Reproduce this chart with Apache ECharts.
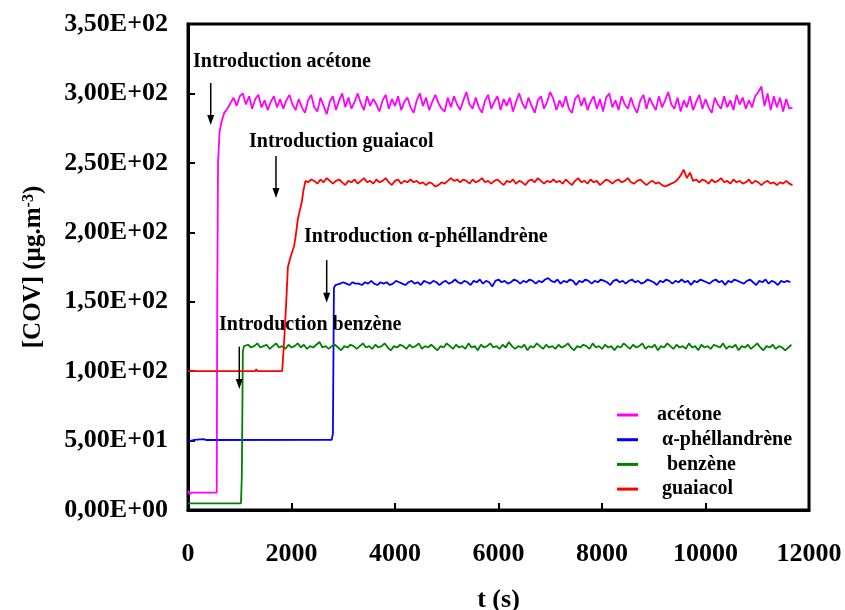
<!DOCTYPE html>
<html>
<head>
<meta charset="utf-8">
<script src="https://cdn.jsdelivr.net/npm/echarts@6/dist/echarts.min.js"></script>
<style>
html,body{margin:0;padding:0;background:#fff;}
#chart{width:845px;height:610px;}
</style>
</head>
<body>
<div id="chart"></div>
<script>
// ---- Data ----
const seriesNames = ['acétone', 'α-phéllandrène', 'benzène', 'guaiacol'];
const xTicks = [0, 2000, 4000, 6000, 8000, 10000, 12000];
const yTicks = [0, 50, 100, 150, 200, 250, 300, 350];

const step = 60; // sampling interval (s) of the plateau readings

// acétone
const acetonePre = [[0,14],[30,11.5],[70,12.5],[555,12.5],[565,150],[580,250],[610,272],[650,280],[700,286]];
const acetoneStart = 760;
const acetoneVals = [
 289,293,297,291,298,300,292,298,289,296,299,290,295,288,294,298,290,296,289,295,
 299,292,288,296,290,286,295,299,290,287,297,291,285,294,298,288,295,300,290,297,
 289,294,300,293,288,298,291,296,292,287,295,299,289,296,291,298,288,294,297,290,
 286,295,300,291,297,288,294,299,293,289,287,297,290,298,292,288,295,301,292,289,
 297,290,286,295,299,289,294,298,288,296,291,297,287,294,300,293,289,297,291,286,
 295,298,289,294,301,296,288,295,290,298,289,286,296,299,291,297,288,294,298,289,
 296,287,297,300,290,295,288,298,292,289,297,290,286,295,299,289,297,292,288,298,
 290,295,301,292,289,297,287,295,290,298,288,294,299,289,296,290,286,297,292,289,
 298,290,295,288,299,292,297,289,295,290,298,301,305,291,300,288,298,290,297,287,296,289,290
];

// α-phéllandrène
const alphaPre = [[0,50.4],[60,49.8],[120,50.5],[300,51],[360,50.4],[2777,50.6],[2800,55],[2820,160],[2850,162]];
const alphaStart = 2880;
const alphaVals = [
 162,163,164,163,162,164,163,163,162,164,163,165,163,162,164,163,164,162,163,165,
 164,163,162,164,165,163,164,162,165,164,163,165,164,162,164,165,163,164,166,164,
 163,165,164,162,165,164,166,163,165,164,161,165,166,164,165,163,164,166,165,163,
 165,164,166,165,163,165,164,166,167,165,164,166,163,165,164,166,165,162,165,164,
 166,165,163,165,164,166,165,164,162,165,166,164,165,163,165,166,164,165,163,164,
 166,165,164,162,165,164,166,165,163,165,164,166,164,165,162,165,164,166,165,164,
 163,165,166,164,165,162,165,164,166,165,164,163,165,166,164,162,165,164,166,163,165,164,162,165,164,165,164
];

// benzène
const benzenePre = [[0,4.8],[1024,4.8],[1040,24],[1060,114],[1080,118]];
const benzeneStart = 1100;
const benzeneVals = [
 118,119,117,118,120,117,118,119,116,118,120,117,118,116,119,117,118,120,117,119,
 116,118,117,119,121,117,118,116,118,119,117,115,118,117,119,118,116,118,120,117,
 118,116,119,117,118,120,117,115,118,117,119,118,116,119,117,118,120,116,118,117,
 119,117,115,118,117,120,118,116,119,117,118,116,120,117,118,115,119,117,118,120,
 117,118,116,119,117,121,118,116,118,117,119,115,118,117,120,118,116,119,117,118,
 116,119,117,118,120,117,115,118,117,119,118,116,120,117,118,116,119,117,118,115,
 118,117,120,118,116,119,117,118,120,116,118,117,119,115,118,117,120,118,116,119,
 117,118,116,120,117,118,115,119,117,118,116,119,118,117,120,116,118,117,119,115,
 118,117,119,116,118,120,117,115,118,117,119,116,118,117,115,117,119
];

// guaiacol
const guaiacolPre = [[0,100],[1300,100],[1320,101.5],[1340,100],[1820,100],[1860,123],[1900,151],[1930,175],[1980,182],[2050,190],[2080,197],[2120,209],[2150,214],[2200,222],[2230,230],[2270,237]];
const guaiacolStart = 2320;
const guaiacolVals = [
 236,238,237,235,238,236,239,237,235,237,238,236,234,237,236,238,235,237,239,236,
 237,235,238,236,237,239,236,234,237,238,235,237,236,238,236,237,235,236,234,236,
 235,233,234,236,235,237,239,237,238,236,238,237,235,238,236,237,239,236,237,235,
 237,238,236,234,237,236,238,235,237,236,234,237,238,236,239,237,235,237,236,238,
 236,237,235,238,236,234,237,239,236,237,235,238,236,237,234,236,238,237,235,237,
 238,236,237,239,236,235,237,238,236,234,
 236,237,235,236,234,233,234,235,236,238,241,245,239,243,237,238,
 236,238,237,235,238,236,237,239,236,237,235,238,236,237,235,236,238,235,237,236,234,236,237,235,236,234,236,235,237,235,234
];

// annotations (data units)
const annotations = [
  {text: 'Introduction acétone',        tx: 97,   ty: 322.4, ax: 439,  ay0: 307.5, ay1: 277.3},
  {text: 'Introduction guaiacol',       tx: 1179, ty: 265.4, ax: 1700, ay0: 254.9, ay1: 224.7},
  {text: 'Introduction α-phéllandrène', tx: 2242, ty: 196.6, ax: 2680, ay0: 180.0, ay1: 149.3},
  {text: 'Introduction benzène',        tx: 599,  ty: 133.0, ax: 991,  ay0: 117.6, ay1: 87.1}
];

// ---- Build ----
function build(pre, start, vals) {
  return pre.concat(vals.map((v, i) => [start + i * step, v]));
}
const seriesData = [
  build(acetonePre, acetoneStart, acetoneVals),
  build(alphaPre, alphaStart, alphaVals),
  build(benzenePre, benzeneStart, benzeneVals),
  build(guaiacolPre, guaiacolStart, guaiacolVals)
];
const colors = ['#FF00FF', '#0000FF', '#008000', '#FF0000'];
const FONT = '"Liberation Serif", "Times New Roman", serif';

function sciFr(v) {
  const s = Number(v).toExponential(2);
  const parts = s.split('e');
  const exp = parseInt(parts[1], 10);
  const sign = exp < 0 ? '-' : '+';
  const e = String(Math.abs(exp)).padStart(2, '0');
  return parts[0].replace('.', ',') + 'E' + sign + e;
}

const chart = echarts.init(document.getElementById('chart'), null, {renderer: 'canvas'});
const legendPad = {'acétone': '', 'α-phéllandrène': ' ', 'benzène': '  ', 'guaiacol': ' '};

const option = {
  animation: false,
  backgroundColor: '#fff',
  grid: {left: 188, right: 36, top: 24, bottom: 100, containLabel: false, outerBoundsMode: 'none',
    show: true, borderColor: '#000', borderWidth: 3, backgroundColor: 'transparent'},
  legend: {
    orient: 'vertical', left: 612, top: 400,
    itemWidth: 21, itemHeight: 3, itemGap: 4.7,
    icon: 'rect',
    data: seriesNames,
    formatter: n => legendPad[n] + n,
    textStyle: {fontFamily: FONT, fontWeight: 'bold', fontSize: 20, color: '#000', lineHeight: 20, padding: [0, 0, 0, 14]}
  },
  xAxis: {
    type: 'value', min: 0, max: 12000, interval: 2000,
    name: 't (s)', nameLocation: 'middle', nameGap: 77,
    nameTextStyle: {fontFamily: FONT, fontWeight: 'bold', fontSize: 26, color: '#000'},
    axisLine: {show: true, lineStyle: {color: '#000', width: 3}},
    axisTick: {show: true, inside: true, length: 7, lineStyle: {color: '#000', width: 2}},
    axisLabel: {fontFamily: FONT, fontWeight: 'bold', fontSize: 26, color: '#000', margin: 31,
      formatter: v => xTicks.indexOf(v) >= 0 ? String(v) : ''},
    splitLine: {show: false}
  },
  yAxis: {
    type: 'value', min: 0, max: 350, interval: 50,
    name: '[COV] (µg.m{sup|-3})', nameLocation: 'middle', nameGap: 142, nameRotate: 90,
    nameTextStyle: {fontFamily: FONT, fontWeight: 'bold', fontSize: 25, color: '#000',
      rich: {sup: {fontFamily: FONT, fontWeight: 'bold', fontSize: 16, color: '#000', verticalAlign: 'top', lineHeight: 16, padding: [0, 0, 12, 0]}}},
    axisLine: {show: true, lineStyle: {color: '#000', width: 3}},
    axisTick: {show: true, inside: true, length: 7, lineStyle: {color: '#000', width: 2}},
    axisLabel: {fontFamily: FONT, fontWeight: 'bold', fontSize: 26, color: '#000', margin: 20,
      formatter: v => yTicks.indexOf(v) >= 0 ? sciFr(v) : ''},
    splitLine: {show: false}
  },
  series: seriesNames.map((n, i) => ({
    name: n, type: 'line', data: seriesData[i], showSymbol: false, symbol: 'none',
    color: colors[i],
    lineStyle: {color: colors[i], width: 1.8},
    z: 3
  }))
};
chart.setOption(option);

// annotations placed via the chart's own coordinate conversion
const g = [];
annotations.forEach(a => {
  const tp = chart.convertToPixel({gridIndex: 0}, [a.tx, a.ty]);
  const p0 = chart.convertToPixel({gridIndex: 0}, [a.ax, a.ay0]);
  const p1 = chart.convertToPixel({gridIndex: 0}, [a.ax, a.ay1]);
  g.push({type: 'text', z: 10, style: {text: a.text, x: tp[0], y: tp[1], font: 'bold 20px ' + FONT, fill: '#000', align: 'left', verticalAlign: 'middle'}});
  g.push({type: 'line', z: 10, shape: {x1: p0[0], y1: p0[1], x2: p1[0], y2: p1[1] - 8}, style: {stroke: '#000', lineWidth: 1.5}});
  g.push({type: 'polygon', z: 10, shape: {points: [[p1[0] - 3.5, p1[1] - 10], [p1[0] + 3.5, p1[1] - 10], [p1[0], p1[1]]]}, style: {fill: '#000'}});
});
chart.setOption({graphic: g});
</script>
</body>
</html>
